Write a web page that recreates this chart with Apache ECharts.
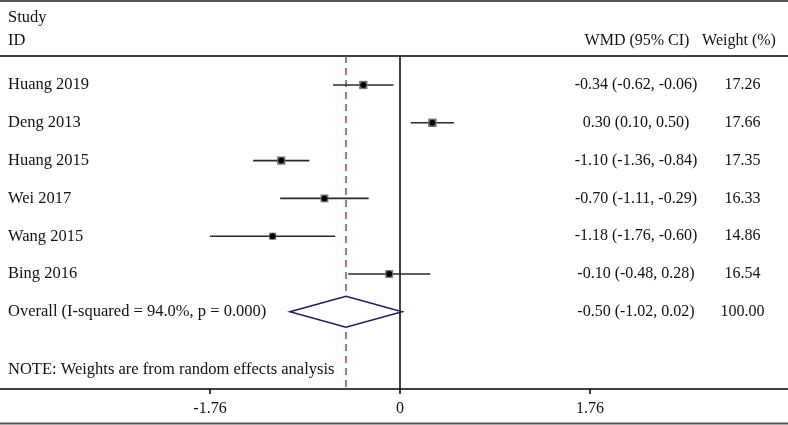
<!DOCTYPE html>
<html><head><meta charset="utf-8">
<script src="https://cdn.jsdelivr.net/npm/echarts@6/dist/echarts.min.js"></script>
<style>html,body{margin:0;padding:0;background:#fff}#c{width:788px;height:425px}</style>
</head><body><div id="c"></div>
<script>
const studies = ['Huang 2019','Deng 2013','Huang 2015','Wei 2017','Wang 2015','Bing 2016'];
const wmd     = [-0.34, 0.30, -1.10, -0.70, -1.18, -0.10];
const lower   = [-0.62, 0.10, -1.36, -1.11, -1.76, -0.48];
const upper   = [-0.06, 0.50, -0.84, -0.29, -0.60, 0.28];
const weights = [17.26, 17.66, 17.35, 16.33, 14.86, 16.54];
const overallLabel = 'Overall (I-squared = 94.0%, p = 0.000)';
const overall = [-0.50, -1.02, 0.02];
const overallWeight = 100.00;
const tickValues = [-1.76, 0, 1.76];
const noteText = 'NOTE: Weights are from random effects analysis';

const FONT = '"Liberation Serif", "DejaVu Serif", serif';
const FS = 16;
const FSL = 16.5;
const W = 788, X0 = 400, PX = 107.95;
const xMin = -X0 / PX, xMax = (W - X0) / PX;
const TOP = 56, BOT = 389, ROW0 = 85, ROWH = 37.8;
const yMin = -(ROW0 - TOP) / ROWH, yMax = yMin + (BOT - TOP) / ROWH;
const fmt = v => v.toFixed(2);

const chart = echarts.init(document.getElementById('c'), null, {renderer: 'canvas'});

const studyData = studies.map((s, i) => [wmd[i], i, lower[i], upper[i], weights[i]]);
const labelRows = studies.map((s, i) => ({
  value: [0, i], name: s,
  ci: `${fmt(wmd[i])} (${fmt(lower[i])}, ${fmt(upper[i])})`,
  w: fmt(weights[i])
}));
labelRows.push({value: [0, studies.length], name: overallLabel,
  ci: `${fmt(overall[0])} (${fmt(overall[1])}, ${fmt(overall[2])})`, w: fmt(overallWeight)});

const txt = (x, y, s, align, fs) => ({
  type: 'text', x: x, y: y,
  style: {text: s, font: `${fs || FS}px ${FONT}`, fill: '#111', textAlign: align || 'left', textVerticalAlign: 'middle'}
});

chart.setOption({
  animation: false,
  grid: [
    {left: 0, right: 0, top: TOP, bottom: 425 - BOT},
    {left: 400 - 1.76 * PX, right: W - (400 + 1.76 * PX), top: TOP, bottom: 425 - BOT}
  ],
  xAxis: [
    {gridIndex: 0, type: 'value', min: xMin, max: xMax, position: 'bottom',
     axisLine: {show: true, onZero: false, lineStyle: {color: '#000', width: 1.5}},
     axisTick: {show: false}, axisLabel: {show: false}, splitLine: {show: false}},
    {gridIndex: 0, type: 'value', min: xMin, max: xMax, position: 'top',
     axisLine: {show: true, onZero: false, lineStyle: {color: '#000', width: 1.5}},
     axisTick: {show: false}, axisLabel: {show: false}, splitLine: {show: false}},
    {gridIndex: 1, type: 'value', min: tickValues[0], max: tickValues[2], interval: tickValues[2],
     position: 'bottom',
     axisLine: {show: false}, splitLine: {show: false},
     axisTick: {show: true, length: 5, lineStyle: {color: '#000', width: 1.5}},
     axisLabel: {show: true, margin: 12, color: '#111', fontFamily: FONT, fontSize: FS,
       formatter: v => { const t = tickValues.find(u => Math.abs(u - v) < 1e-6); return t === 0 ? '0' : fmt(t); }}}
  ],
  yAxis: [
    {gridIndex: 0, type: 'value', min: yMin, max: yMax, inverse: true, show: false},
    {gridIndex: 1, type: 'value', min: 0, max: 1, show: false}
  ],
  graphic: [
    {type: 'line', shape: {x1: 0, y1: 1, x2: W, y2: 1}, style: {stroke: '#555', lineWidth: 2}},
    {type: 'line', shape: {x1: 0, y1: 423.5, x2: W, y2: 423.5}, style: {stroke: '#555', lineWidth: 2}},
    txt(8, 18, 'Study', 'left', FSL),
    txt(8, 41, 'ID', 'left', FSL),
    txt(637, 41, 'WMD (95% CI)', 'center'),
    txt(739, 41, 'Weight (%)', 'center')
  ],
  series: [
    {
      type: 'custom', xAxisIndex: 0, yAxisIndex: 0, data: studyData, z: 5,
      renderItem: (params, api) => {
        const est = api.coord([api.value(0), api.value(1)]);
        const lo = api.coord([api.value(2), api.value(1)]);
        const hi = api.coord([api.value(3), api.value(1)]);
        const side = api.value(4) * 0.48;
        return {type: 'group', children: [
          {type: 'line', shape: {x1: lo[0], y1: lo[1], x2: hi[0], y2: hi[1]},
           style: {stroke: '#2a2a2a', lineWidth: 1.6}},
          {type: 'rect', shape: {x: est[0] - side / 2, y: est[1] - side / 2, width: side, height: side},
           style: {fill: '#777'}},
          {type: 'circle', shape: {cx: est[0], cy: est[1], r: 3}, style: {fill: '#000'}}
        ]};
      },
      markLine: {
        silent: true, symbol: 'none', label: {show: false},
        data: [
          {xAxis: 0, lineStyle: {color: '#000', width: 1.5, type: 'solid'}},
          {xAxis: overall[0], lineStyle: {color: '#9b4a4a', width: 1.5, type: [7, 5]}}
        ]
      }
    },
    {
      type: 'custom', xAxisIndex: 0, yAxisIndex: 0, z: 6,
      data: [[overall[0], studies.length, overall[1], overall[2]]],
      renderItem: (params, api) => {
        const r = api.value(1), h = 15.5 / ROWH;
        const p1 = api.coord([api.value(2), r]);
        const p2 = api.coord([api.value(0), r - h]);
        const p3 = api.coord([api.value(3), r]);
        const p4 = api.coord([api.value(0), r + h]);
        return {type: 'polygon', shape: {points: [p1, p2, p3, p4]},
          style: {fill: '#fff', stroke: '#1c1c5c', lineWidth: 1.5}};
      }
    },
    {
      type: 'custom', xAxisIndex: 0, yAxisIndex: 0, z: 7, data: labelRows,
      renderItem: (params, api) => {
        const d = labelRows[params.dataIndex];
        const y = api.coord([0, api.value(1)])[1];
        return {type: 'group', children: [txt(8, y, d.name, 'left', FSL), txt(636, y, d.ci, 'center'), txt(742.5, y, d.w, 'center')]};
      }
    },
    {
      type: 'custom', xAxisIndex: 0, yAxisIndex: 0, z: 7, data: [[0, 7.54]],
      renderItem: (params, api) => txt(8, api.coord([0, api.value(1)])[1], noteText, 'left', FSL)
    },
    {type: 'scatter', xAxisIndex: 2, yAxisIndex: 1, data: []}
  ]
});
</script></body></html>
